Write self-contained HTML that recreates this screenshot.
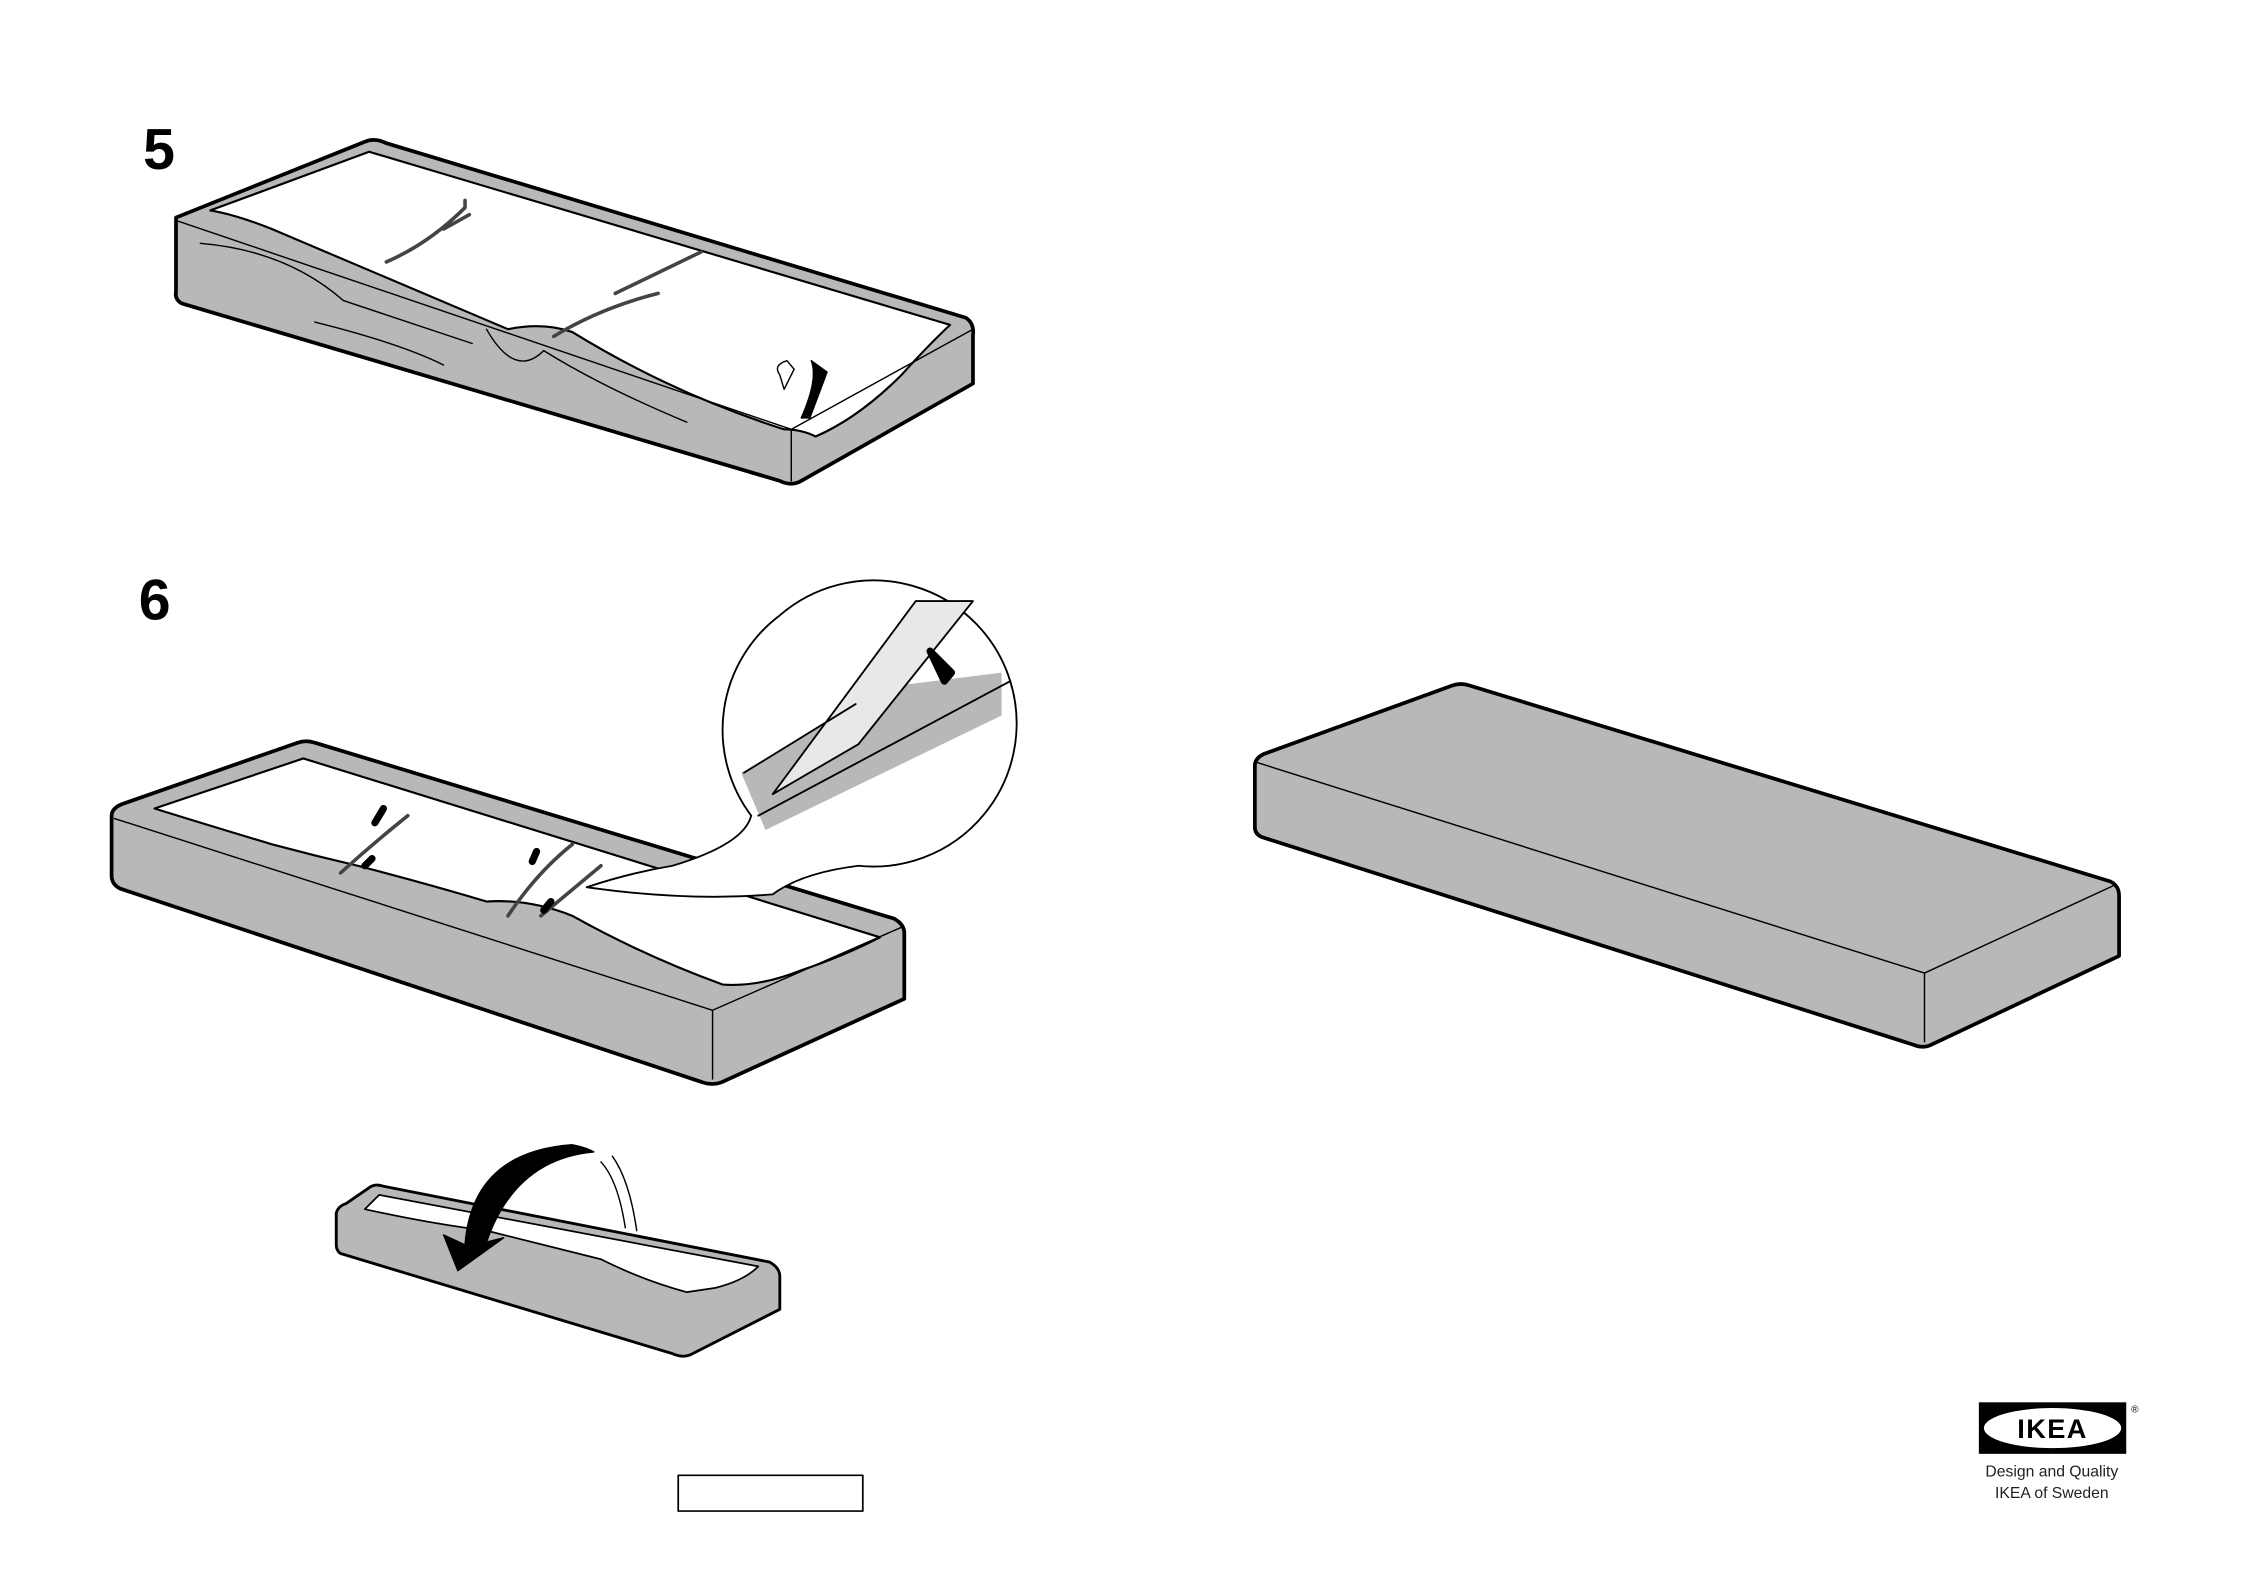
<!DOCTYPE html>
<html><head><meta charset="utf-8"><style>
html,body{margin:0;padding:0;background:#fff;}
svg{display:block;}
</style></head><body>
<svg width="2245" height="1587" viewBox="0 0 1569 1109" xmlns="http://www.w3.org/2000/svg" font-family="Liberation Sans, sans-serif">
<g stroke="#000" stroke-linejoin="round" stroke-linecap="round">
<!-- Step 5 -->
<text x="100" y="118" font-size="40" font-weight="bold" stroke="none" fill="#000">5</text>
<path d="M123,152 L255,99 Q262,96 270,100 L675,222 Q681,226 680,234 L680,268 L560,336 Q553,340 545,336 L127,212 Q122,209 123,204 Z" fill="#b8b8b8" stroke-width="2.6"/>
<path d="M147,147 L258,106 L664,227 Q650,240 630,262 Q600,292 570,305 Q560,300 548,300 Q470,275 400,232 Q380,225 355,230 L190,160 Q165,150 147,147 Z" fill="#fff" stroke-width="1.5"/>
<path d="M123,154 L553,300 L680,230 M553,300 L553,336" fill="none" stroke-width="1"/>
<path d="M270,183 Q300,170 325,145 L325,140 M310,160 L328,150 M387,235 Q420,215 460,205 M430,205 L490,176" fill="none" stroke="#444" stroke-width="2.5"/>
<path d="M140,170 Q200,175 240,210 Q300,230 330,240 M220,225 Q280,240 310,255 M340,230 Q360,265 380,245 Q420,270 480,295" fill="none" stroke-width="1"/>
<path d="M560,292 Q572,265 567,252 L578,260 L566,292 Z" fill="#000" stroke-width="1"/>
<path d="M545,262 Q540,255 550,252 L555,258 L548,272 Z" fill="#fff" stroke-width="1"/>
<!-- Step 6 -->
<text x="97" y="433" font-size="40" font-weight="bold" stroke="none" fill="#000">6</text>
<path d="M78,570 Q78,565 85,562 L208,519 Q214,517 220,519 L625,642 Q632,646 632,652 L632,698 L505,756 Q498,759 490,756 L84,621 Q78,618 78,612 Z" fill="#b8b8b8" stroke-width="2.6"/>
<path d="M108,565 L212,530 L615,655 Q590,668 560,678 Q530,690 505,688 Q450,668 400,640 Q370,628 340,630 Q300,618 250,605 Q220,598 190,590 Q140,575 108,565 Z" fill="#fff" stroke-width="1.5"/>
<path d="M80,572 L498,706 L630,648 M498,706 L498,754" fill="none" stroke-width="1"/>
<path d="M238,610 Q260,590 285,570 M355,640 Q375,610 400,590 M378,640 L420,605" fill="none" stroke="#444" stroke-width="2.5"/>
<path d="M268,565 L262,575 M260,600 L255,605 M375,595 L372,602 M385,630 L380,636" stroke-width="5"/>
<!-- magnifier -->
<path d="M545,430 A100,100 0 1,1 600,605 Q560,610 540,625 Q480,630 410,620 Q440,610 470,605 Q520,590 525,570 A100,100 0 0,1 545,430 Z" fill="#fff" stroke-width="1.3"/>
<path d="M518,540 L620,480 L700,470 L700,500 L535,580 Z" fill="#b8b8b8" stroke="none"/>
<path d="M520,540 L598,492 M530,570 L706,476 M540,555 L640,420 L680,420 L600,520 Z" fill="#e8e8e8" stroke-width="1.3"/>
<path d="M650,455 L665,470 L660,476 Z" stroke-width="5"/>
<!-- small block -->
<path d="M235,848 Q236,843 242,841 L258,830 Q262,827 268,829 L538,882 Q545,886 545,892 L545,915 L482,947 Q477,949 470,946 L238,876 Q235,874 235,870 Z" fill="#b8b8b8" stroke-width="2"/>
<path d="M255,845 L265,835 L530,885 Q520,895 500,900 L480,903 Q450,895 420,880 Q380,870 340,860 Q300,855 255,845 Z" fill="#fff" stroke-width="1.2"/>
<path d="M420,812 Q432,825 437,858 M428,808 Q440,825 445,860" fill="none" stroke-width="1"/>
<path d="M325,870 Q330,805 400,800 Q410,802 415,805 Q360,810 340,868 L352,865 L320,888 L310,863 Z" fill="#000" stroke-width="1"/>
<!-- empty box -->
<rect x="474" y="1031" width="129" height="25" fill="#fff" stroke-width="1.2"/>
<!-- right block -->
<path d="M877,535 Q877,530 883,527 L1015,479 Q1021,477 1027,479 L1475,616 Q1481,619 1481,626 L1481,668 L1350,730 Q1344,733 1337,730 L882,585 Q877,583 877,578 Z" fill="#b8b8b8" stroke-width="2.6"/>
<path d="M879,533 L1345,680 L1479,618 M1345,680 L1345,728" fill="none" stroke-width="1"/>
</g>
<!-- IKEA logo -->
<rect x="1383" y="980" width="103" height="36" fill="#000"/>
<ellipse cx="1434.5" cy="998" rx="48" ry="14" fill="#fff"/>
<text x="1434.5" y="1005" font-size="19" font-weight="bold" text-anchor="middle" fill="#000" letter-spacing="1">IKEA</text>
<text x="1492" y="987" font-size="7" text-anchor="middle" fill="#000">®</text>
<text x="1434" y="1032" font-size="11" text-anchor="middle" fill="#222">Design and Quality</text>
<text x="1434" y="1047" font-size="11" text-anchor="middle" fill="#222">IKEA of Sweden</text>
</svg>
</body></html>
